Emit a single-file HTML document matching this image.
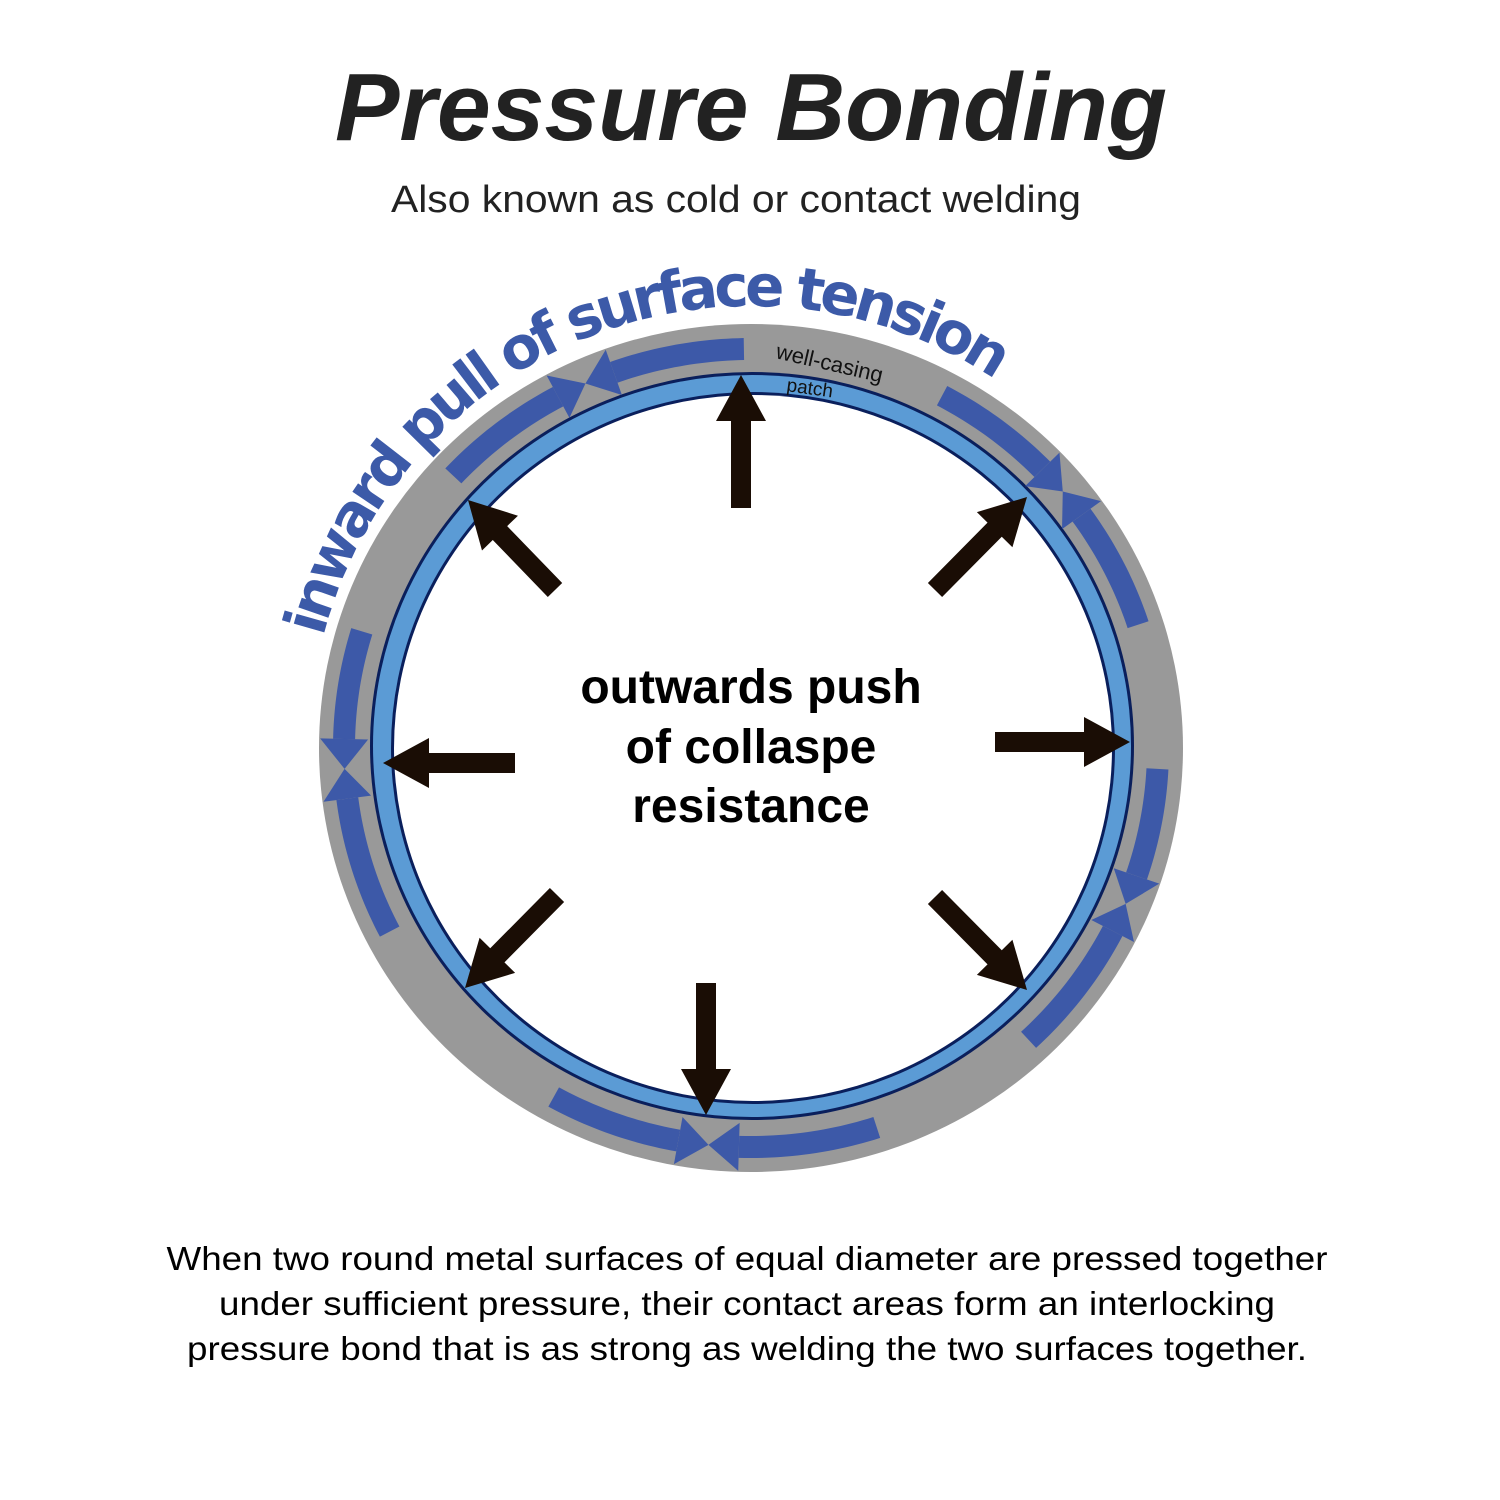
<!DOCTYPE html>
<html><head><meta charset="utf-8"><style>
html,body{margin:0;padding:0;background:#fff;width:1500px;height:1500px;overflow:hidden}
svg{display:block}
</style></head><body>
<svg id="s" width="1500" height="1500" viewBox="0 0 1500 1500" xmlns="http://www.w3.org/2000/svg">
<defs>
<path id="tp" d="M 315.7 671.2 A 442 442 0 0 1 1035.1 409.4"/>
</defs>
<text x="751" y="140" text-anchor="middle" font-family="Liberation Sans, sans-serif" font-weight="bold" font-style="italic" font-size="96" fill="#222" textLength="832" lengthAdjust="spacingAndGlyphs">Pressure Bonding</text>
<text x="736" y="212" text-anchor="middle" font-family="Liberation Sans, sans-serif" font-size="38" fill="#222" textLength="690" lengthAdjust="spacingAndGlyphs">Also known as cold or contact welding</text>

<ellipse cx="751" cy="748" rx="432" ry="424" fill="#999"/>
<ellipse cx="752" cy="746" rx="382" ry="374" fill="#0a1f5c"/>
<ellipse cx="752" cy="746" rx="379" ry="371" fill="#5b9bd5"/>
<ellipse cx="753" cy="748" rx="362" ry="356" fill="#0a1f5c"/>
<ellipse cx="753" cy="748" rx="359" ry="353" fill="#fff"/>
<g id="arcs"></g>
<g id="arrows" fill="#1a0d05"></g>

<text font-family="DejaVu Sans, sans-serif" font-weight="bold" font-size="58" fill="#3c5aa8"><textPath href="#tp" startOffset="35" textLength="841" lengthAdjust="spacing">inward pull of surface tension</textPath></text>
<text x="0" y="0" transform="translate(775,358) rotate(13)" font-family="Liberation Sans, sans-serif" font-size="22" fill="#111">well-casing</text>
<text x="0" y="0" transform="translate(786,391) rotate(8)" font-family="Liberation Sans, sans-serif" font-size="19" fill="#111">patch</text>

<g font-family="Liberation Sans, sans-serif" font-weight="bold" font-size="48" fill="#000" text-anchor="middle">
<text x="751" y="703">outwards push</text>
<text x="751" y="763">of collaspe</text>
<text x="751" y="822">resistance</text>
</g>
<g font-family="Liberation Sans, sans-serif" font-size="33" fill="#000" text-anchor="middle">
<text x="747" y="1270" textLength="1161" lengthAdjust="spacingAndGlyphs">When two round metal surfaces of equal diameter are pressed together</text>
<text x="747" y="1315" textLength="1056" lengthAdjust="spacingAndGlyphs">under sufficient pressure, their contact areas form an interlocking</text>
<text x="747" y="1360" textLength="1120" lengthAdjust="spacingAndGlyphs">pressure bond that is as strong as welding the two surfaces together.</text>
</g>
</svg>
<script>
(function(){
var NS="http://www.w3.org/2000/svg";
var cx=751,cy=748,rx=407,ry=399;
function pt(a,dr){var t=a*Math.PI/180;return [cx+(rx+dr)*Math.cos(t),cy+(ry+dr)*Math.sin(t)];}
var arcs=[[-137,-114],[-91,-114],[-62,-40],[-18,-40],[3,23],[47,23],[72,96],[119,96],[152.6,177],[197,177]];
var g=document.getElementById('arcs');
arcs.forEach(function(p){
  var a0=p[0],tip=p[1],dir=tip>a0?1:-1,d=4.3*dir,a1=tip-d;
  var pts=[],n=24,i;
  for(i=0;i<=n;i++){pts.push(pt(a0+(a1-a0)*i/n,11));}
  for(i=n;i>=0;i--){pts.push(pt(a0+(a1-a0)*i/n,-11));}
  var poly=document.createElementNS(NS,'polygon');
  poly.setAttribute('points',pts.map(function(q){return q.join(',')}).join(' '));
  poly.setAttribute('fill','#3d59a8');g.appendChild(poly);
  var h=[pt(a1,24),pt(tip,0),pt(a1,-24)];
  var tri=document.createElementNS(NS,'polygon');
  tri.setAttribute('points',h.map(function(q){return q.join(',')}).join(' '));
  tri.setAttribute('fill','#3d59a8');g.appendChild(tri);
});
var ar=[[741,508,741,375],[555,590,468,500],[935,590,1027,497],[995,742,1130,742],[515,763,383,763],[557,895,465,988],[706,983,706,1115],[935,897,1027,990]];
var ga=document.getElementById('arrows');
ar.forEach(function(a){
  var x0=a[0],y0=a[1],x1=a[2],y1=a[3],dx=x1-x0,dy=y1-y0,L=Math.sqrt(dx*dx+dy*dy),ux=dx/L,uy=dy/L,nx=-uy,ny=ux;
  var hl=46,sw=10,hw=25,bx=x1-ux*hl,by=y1-uy*hl;
  var P=[[x0+nx*sw,y0+ny*sw],[bx+nx*sw,by+ny*sw],[bx+nx*hw,by+ny*hw],[x1,y1],[bx-nx*hw,by-ny*hw],[bx-nx*sw,by-ny*sw],[x0-nx*sw,y0-ny*sw]];
  var e=document.createElementNS(NS,'polygon');
  e.setAttribute('points',P.map(function(q){return q.join(',')}).join(' '));
  ga.appendChild(e);
});
})();
</script>
</body></html>
